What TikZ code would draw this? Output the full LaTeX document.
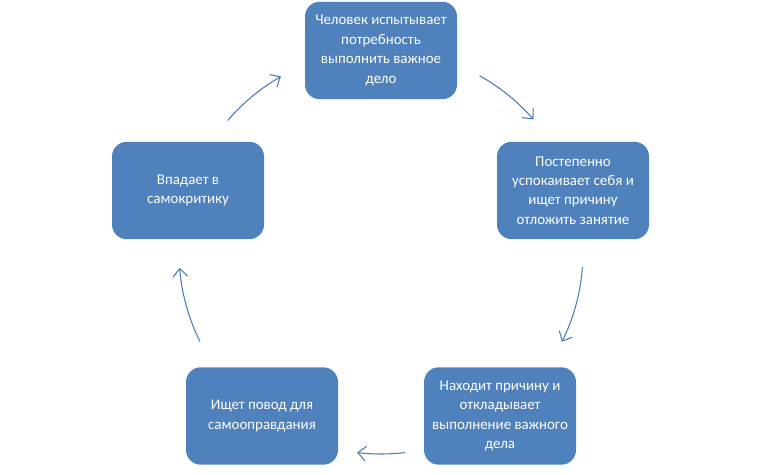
\documentclass[tikz,border=0pt]{standalone}
\usepackage{fontspec}
\setmainfont{Carlito}
\usetikzlibrary{arrows.meta}
\definecolor{boxblue}{HTML}{4F81BD}
\definecolor{arrblue}{HTML}{4A7EBB}
\tikzset{
  box/.style={draw=none, fill=boxblue, rounded corners=11pt, minimum width=114pt, minimum height=73pt,
    text=white, align=center, font=\fontsize{11.2}{14.6}\selectfont, inner sep=2pt},
  arr/.style={draw=arrblue, line width=0.8pt, -{Straight Barb[length=6pt, width=11pt]}}
}
\begin{document}
\begin{tikzpicture}[x=0.75pt, y=0.75pt]
\useasboundingbox (0,0) rectangle (762,474);
\node[box] (n1) at (381,423.5) {Человек испытывает\\потребность\\выполнить важное\\дело};
\node[box] (n2) at (573,283.5) {Постепенно\\успокаивает себя и\\ищет причину\\отложить занятие};
\node[box] (n3) at (500,58) {Находит причину и\\откладывает\\выполнение важного\\дела};
\node[box] (n4) at (262,58) {Ищет повод для\\самооправдания};
\node[box] (n5) at (188,283.5) {Впадает в\\самокритику};
\coordinate (c) at (381,222);
\path (c) ++(60.8:151.5pt) coordinate (s1);
\path (c) ++(-4.3:151.5pt) coordinate (s2);
\path (c) ++(-83.2:151.5pt) coordinate (s3);
\path (c) ++(206.3:151.5pt) coordinate (s4);
\path (c) ++(139.4:151.5pt) coordinate (s5);
\draw[arr] (s1) arc[start angle=60.8, end angle=41, radius=151.5pt];
\draw[arr] (s2) arc[start angle=-4.3, end angle=-26.4, radius=151.5pt];
\draw[arr] (s3) arc[start angle=-83.2, end angle=-96.8, radius=151.5pt];
\draw[arr] (s4) arc[start angle=206.3, end angle=184.5, radius=151.5pt];
\draw[arr] (s5) arc[start angle=139.4, end angle=119.7, radius=151.5pt];
\end{tikzpicture}
\end{document}
